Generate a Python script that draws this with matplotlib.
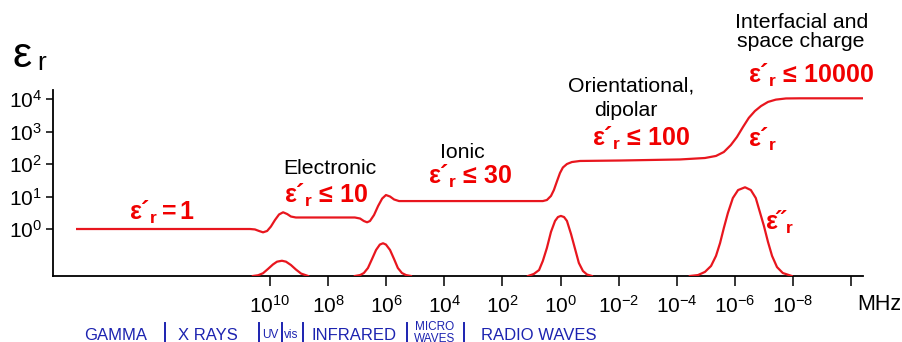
import matplotlib
matplotlib.use("Agg")
import matplotlib.pyplot as plt
import numpy as np
from matplotlib.lines import Line2D
from matplotlib.ticker import FixedLocator, FixedFormatter, NullLocator

# real permittivity across the spectrum: frequency exponent (MHz) and eps'
eps1_exp = [16.64, 10.69, 10.52, 10.38, 10.24, 10.10, 9.97, 9.83, 9.69, 9.55,
            9.41, 9.28, 9.11, 7.08, 6.90, 6.77, 6.66, 6.56, 6.42, 6.28,
            6.14, 6.01, 5.87, 5.73, 5.56, 0.61, 0.47, 0.33, 0.23, 0.12,
            0.02, -0.08, -0.22, -0.39, -0.67, -2.04, -4.11, -4.97, -5.35, -5.62,
            -5.86, -6.07, -6.28, -6.48, -6.69, -6.90, -7.14, -7.41, -7.76, -8.24,
            -10.41]
eps1_val = [1.00, 1.00, 0.97, 0.87, 0.79, 0.87, 1.19, 1.89, 2.80, 3.27,
            2.89, 2.42, 2.26, 2.26, 2.10, 1.76, 1.61, 1.76, 2.70, 5.10,
            8.66, 11.1, 10.0, 8.10, 7.24, 7.24, 7.80, 10.4, 15.8, 30.0,
            52.8, 78.0, 100.0, 115.0, 124.0, 128.0, 138.0, 153.0, 177.0, 234.0,
            382.0, 676.0, 1380.0, 2630.0, 4270.0, 6070.0, 8130.0, 9570.0, 10400.0, 10500.0,
            10500.0]

# loss peaks (eps'', arbitrary units) for each polarisation mechanism
electronic_exp = [10.59, 10.41, 10.24, 10.07, 9.90, 9.76, 9.59, 9.45, 9.28, 9.11, 8.93, 8.69]
electronic_val = [0.0, 0.04, 0.15, 0.38, 0.62, 0.77, 0.82, 0.77, 0.59, 0.35, 0.13, 0.0]

ionic_exp = [7.08, 6.90, 6.77, 6.63, 6.49, 6.35, 6.22, 6.11, 6.01, 5.87, 5.73, 5.60, 5.46, 5.32, 5.15]
ionic_val = [0.0, 0.05, 0.16, 0.43, 0.91, 1.40, 1.69, 1.76, 1.69, 1.40, 0.91, 0.43, 0.16, 0.05, 0.0]

dipolar_exp = [1.12, 0.92, 0.74, 0.61, 0.47, 0.33, 0.19, 0.09, -0.01, -0.12, -0.22,
               -0.36, -0.50, -0.63, -0.77, -0.91, -1.08]
dipolar_val = [0.0, 0.11, 0.32, 0.81, 1.51, 2.37, 2.96, 3.17, 3.23, 3.17, 2.96,
               2.26, 1.45, 0.70, 0.27, 0.08, 0.0]

space_exp = [-4.45, -4.73, -4.97, -5.18, -5.35, -5.49, -5.62, -5.76, -5.93, -6.11,
             -6.35, -6.55, -6.72, -6.86, -7.00, -7.14, -7.28, -7.45, -7.65, -7.96]
space_val = [0.0, 0.05, 0.22, 0.54, 1.08, 1.77, 2.58, 3.39, 4.19, 4.62,
             4.77, 4.62, 4.19, 3.44, 2.69, 1.83, 1.08, 0.48, 0.16, 0.0]

x_tick_exps = [10, 8, 6, 4, 2, 0, -2, -4, -6, -8, -10]
x_tick_labels = [r"$10^{10}$", r"$10^{8}$", r"$10^{6}$", r"$10^{4}$", r"$10^{2}$",
                 r"$10^{0}$", r"$10^{-2}$", r"$10^{-4}$", r"$10^{-6}$", r"$10^{-8}$", ""]
y_tick_exps = [0, 1, 2, 3, 4]
y_tick_labels = [r"$10^{0}$", r"$10^{1}$", r"$10^{2}$", r"$10^{3}$", r"$10^{4}$"]

plt.rcParams["font.family"] = ["Liberation Sans", "DejaVu Sans"]
plt.rcParams["mathtext.fontset"] = "custom"
plt.rcParams["mathtext.rm"] = "Liberation Sans"
plt.rcParams["mathtext.it"] = "Liberation Sans:italic"
plt.rcParams["mathtext.bf"] = "Liberation Sans:bold"
plt.rcParams["mathtext.default"] = "regular"

RED_LINE = "#e8161e"
RED_TEXT = "#f00000"
BLUE = "#1c23b0"

W, H = 902, 342
fig = plt.figure(figsize=(W / 100, H / 100), dpi=100)


def fpos(px, py):
    return px / W, 1 - py / H


ax = fig.add_axes([53 / W, 1 - 276 / H, (863 - 53) / W, (276 - 90) / H])
ax.set_xscale("log")
ax.set_yscale("log")
ax.set_xlim(10 ** 17.47, 10 ** -10.41)
ax.set_ylim(10 ** -1.446, 10 ** 4.277)

ax.plot(10.0 ** np.array(eps1_exp), eps1_val, color=RED_LINE, lw=1.6)

ax.xaxis.set_major_locator(FixedLocator([10.0 ** e for e in x_tick_exps]))
ax.xaxis.set_major_formatter(FixedFormatter(x_tick_labels))
ax.yaxis.set_major_locator(FixedLocator([10.0 ** e for e in y_tick_exps]))
ax.yaxis.set_major_formatter(FixedFormatter(y_tick_labels))
ax.xaxis.set_minor_locator(NullLocator())
ax.yaxis.set_minor_locator(NullLocator())
ax.tick_params(axis="x", direction="out", length=7.5, width=1.1, pad=6, labelsize=15)
ax.tick_params(axis="y", direction="out", length=5, width=1.1, pad=3, labelsize=15)
for side in ("top", "right"):
    ax.spines[side].set_visible(False)
for side in ("left", "bottom"):
    ax.spines[side].set_linewidth(1.3)

# loss curves live on their own linear scale above the frequency axis
ax2 = ax.twinx()
ax2.set_ylim(0, 10)
ax2.set_axis_off()
for xs, ys in [(electronic_exp, electronic_val), (ionic_exp, ionic_val),
               (dipolar_exp, dipolar_val), (space_exp, space_val)]:
    ax2.plot(10.0 ** np.array(xs), ys, color=RED_LINE, lw=1.6)

# axis symbol and unit
fig.text(*fpos(12, 67), "ε", fontsize=31, va="baseline")
fig.text(*fpos(37, 70), "r", fontsize=19, va="baseline")
fig.text(*fpos(857, 310), "MHz", fontsize=15.5, va="baseline")

# mechanism names
black = dict(color="black", fontsize=15.3, ha="center", va="baseline")
fig.text(*fpos(330, 174), "Electronic", **black)
fig.text(*fpos(462, 158), "Ionic", **black)
fig.text(*fpos(631, 92), "Orientational,", **black)
fig.text(*fpos(626, 116), "dipolar", **black)
fig.text(*fpos(802, 28), "Interfacial and", **black)
fig.text(*fpos(801, 47), "space charge", **black)

red = dict(color=RED_TEXT, fontsize=18, ha="center", va="baseline")
fig.text(*fpos(162, 220), r"$\mathbf{ε´_r = 1}$", **red)
fig.text(*fpos(326, 203), r"$\mathbf{ε´_r\ ≤\ 10}$", **red)
fig.text(*fpos(470, 184), r"$\mathbf{ε´_r\ ≤\ 30}$", **red)
fig.text(*fpos(641, 146), r"$\mathbf{ε´_r\ ≤\ 100}$", **red)
fig.text(*fpos(811, 83), r"$\mathbf{ε´_r\ ≤\ 10000}$", **red)
fig.text(*fpos(762, 147), r"$\mathbf{ε´_r}$", **red)
fig.text(*fpos(779, 230), r"$\mathbf{ε˝_r}$", **red)

# spectral regions along the bottom
blue = dict(color=BLUE, fontsize=12, ha="center", va="baseline")
fig.text(*fpos(116, 340), "GAMMA", **blue)
fig.text(*fpos(208, 340), "X RAYS", **blue)
fig.text(*fpos(354, 340), "INFRARED", **blue)
fig.text(*fpos(539, 340), "RADIO WAVES", **blue)
small = dict(color=BLUE, fontsize=8.5, ha="center", va="baseline")
fig.text(*fpos(270, 338), "UV", **small)
fig.text(*fpos(291, 338), "vis", **small)
fig.text(*fpos(435, 330), "MICRO", **small)
fig.text(*fpos(435, 342), "WAVES", **small)
for bx in [165, 259, 282, 303, 407, 464]:
    x0, y0 = fpos(bx, 323)
    _, y1 = fpos(bx, 342)
    fig.add_artist(Line2D([x0, x0], [y0, y1], color=BLUE, lw=1.4,
                          transform=fig.transFigure))

fig.savefig("out.png", dpi=100)
